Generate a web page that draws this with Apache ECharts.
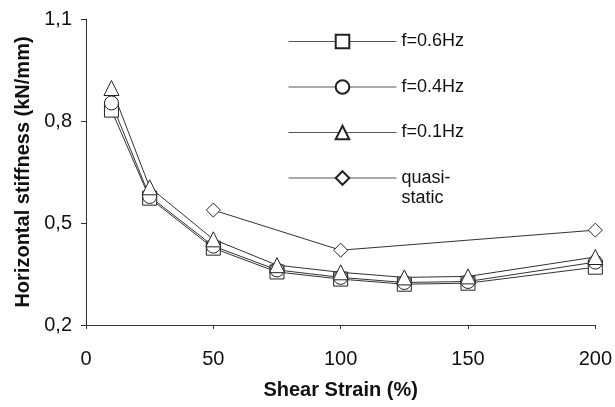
<!DOCTYPE html>
<html>
<head>
<meta charset="utf-8">
<script src="https://cdn.jsdelivr.net/npm/echarts@6/dist/echarts.min.js"></script>
<style>html,body{margin:0;padding:0;background:#fff;}#c{width:615px;height:407px;}</style>
</head>
<body>
<div id="c"></div>
<script>
const strain = [10, 25, 50, 75, 100, 125, 150, 200];
const f06 = [0.832, 0.573, 0.426, 0.356, 0.335, 0.320, 0.323, 0.370];
const f04 = [0.853, 0.578, 0.432, 0.362, 0.340, 0.325, 0.328, 0.385];
const f01 = [0.897, 0.605, 0.452, 0.376, 0.355, 0.340, 0.343, 0.400];
const qsStrain = [50, 100, 200];
const qs = [0.538, 0.420, 0.479];
const yTicks = [0.2, 0.5, 0.8, 1.1];
const xTicks = [0, 50, 100, 150, 200];
const names = ['f=0.6Hz', 'f=0.4Hz', 'f=0.1Hz', 'quasi-static'];

const FONT = '"Liberation Sans", Arial, Helvetica, sans-serif';
const pair = (xs, ys) => xs.map((x, i) => [x, ys[i]]);
const lineStyle = { color: '#333', width: 1 };
const mk = (name, data, symbol, size) => ({
  name, type: 'line', data, symbol, symbolSize: size,
  lineStyle, itemStyle: { color: '#fff', borderColor: '#222', borderWidth: 1 },
  emphasis: { disabled: true }, z: 3
});
const legendBase = {
  orient: 'vertical', left: 283,
  itemWidth: 108, itemHeight: 17, itemGap: 25.5,
  lineStyle: { width: 1, color: '#555' },
  textStyle: { fontFamily: FONT, fontSize: 18, color: '#111', lineHeight: 20 }
};

const chart = echarts.init(document.getElementById('c'), null, { renderer: 'canvas' });
chart.setOption({
  animation: false,
  backgroundColor: '#fff',
  textStyle: { fontFamily: FONT },
  grid: { left: 86, right: 19, top: 19, bottom: 82 },
  legend: [
    Object.assign({}, legendBase, { top: 26.5, data: names.slice(0, 3) }),
    Object.assign({}, legendBase, { top: 143, data: [names[3]],
      formatter: n => '\nquasi-\nstatic' })
  ],
  xAxis: {
    type: 'value', min: 0, max: 200,
    axisLine: { show: true, lineStyle: { color: '#333', width: 1 } },
    axisTick: { show: true, customValues: xTicks, length: 4, lineStyle: { color: '#333' } },
    axisLabel: { customValues: xTicks, margin: 24, fontSize: 20, color: '#111', fontFamily: FONT },
    splitLine: { show: false },
    name: 'Shear Strain (%)', nameLocation: 'middle', nameGap: 55,
    nameTextStyle: { fontSize: 20, fontWeight: 'bold', color: '#111', fontFamily: FONT }
  },
  yAxis: {
    type: 'value', min: 0.2, max: 1.1,
    axisLine: { show: true, lineStyle: { color: '#333', width: 1 } },
    axisTick: { show: true, customValues: yTicks, length: 5, lineStyle: { color: '#333' } },
    axisLabel: { customValues: yTicks, margin: 14, fontSize: 20, color: '#111', fontFamily: FONT,
      formatter: v => v.toFixed(1).replace('.', ',') },
    splitLine: { show: false },
    name: 'Horizontal stiffness (kN/mm)', nameLocation: 'middle', nameGap: 53,
    nameTextStyle: { fontSize: 20, fontWeight: 'bold', color: '#111', fontFamily: FONT }
  },
  series: [
    mk(names[0], pair(strain, f06), 'rect', 14),
    mk(names[1], pair(strain, f04), 'circle', 14),
    mk(names[2], pair(strain, f01), 'triangle', 15),
    mk(names[3], pair(qsStrain, qs), 'diamond', 14)
  ]
});
</script>
</body>
</html>
